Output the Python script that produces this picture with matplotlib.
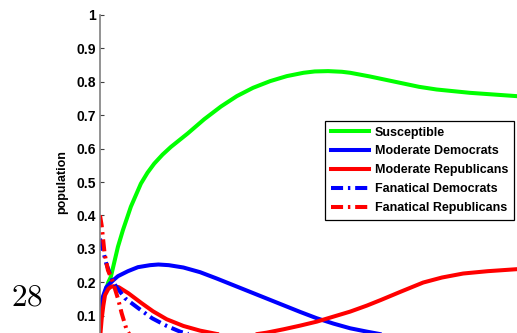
import matplotlib
matplotlib.use('Agg')
import matplotlib.pyplot as plt
from matplotlib.ticker import FixedLocator, FixedFormatter

# values (time in arbitrary units, 0..100 across the visible width)
t_sus = [0, 1, 2, 2.6, 4.3, 5.5, 7.4, 9.8, 11.4, 13, 15, 17, 21, 25, 29, 32.8, 36.7,
         40.8, 44.8, 48.8, 51.5, 54.7, 58, 60, 64.7, 68.5, 72.7, 76.5, 80.7, 88.7, 100]
susceptible = [0.10, 0.16, 0.20, 0.216, 0.306, 0.356, 0.426, 0.495, 0.528, 0.555,
               0.582, 0.605, 0.645, 0.688, 0.726, 0.757, 0.782, 0.802, 0.817, 0.827,
               0.831, 0.832, 0.830, 0.827, 0.816, 0.806, 0.795, 0.785, 0.777, 0.767,
               0.757]

t_md = [0, 0.5, 1.5, 3.1, 4.3, 6.7, 9.1, 12, 14, 16.5, 20, 24, 28, 32, 36, 40, 44,
        48, 52, 56, 60, 64, 70, 80, 100]
mod_dem = [0.11, 0.15, 0.185, 0.205, 0.218, 0.233, 0.245, 0.251, 0.253, 0.251,
           0.244, 0.23, 0.211, 0.191, 0.171, 0.151, 0.131, 0.111, 0.092, 0.076,
           0.062, 0.052, 0.038, 0.022, 0.008]

t_mr = [0, 0.4, 0.8, 1.2, 2, 2.6, 3.2, 4.5, 6.8, 10, 12.7, 16, 20, 24, 28, 32.4,
        36.8, 40, 44, 48, 52, 56, 60, 64, 67.4, 72, 77.5, 82, 87.1, 93, 100]
mod_rep = [0.03, 0.09, 0.13, 0.161, 0.18, 0.186, 0.188, 0.185, 0.167, 0.137, 0.113,
           0.089, 0.069, 0.055, 0.045, 0.038, 0.043, 0.049, 0.059, 0.07, 0.082,
           0.097, 0.112, 0.13, 0.147, 0.171, 0.199, 0.214, 0.226, 0.233, 0.239]

t_fd = [0, 0.3, 1.5, 3.1, 6, 9.2, 12.5, 16, 19.2, 24, 30, 40, 60, 100]
fan_dem = [0.33, 0.316, 0.256, 0.2, 0.152, 0.122, 0.092, 0.069, 0.052, 0.035,
           0.025, 0.015, 0.006, 0.002]

t_fr = [0, 0.4, 1.1, 1.9, 3.1, 4.4, 5.2, 6.4, 7.5, 10, 15, 30, 100]
fan_rep = [0.40, 0.37, 0.286, 0.236, 0.2, 0.147, 0.107, 0.057, 0.035, 0.015,
           0.005, 0.001, 0.0]

yticks = [0.1, 0.2, 0.3, 0.4, 0.5, 0.6, 0.7, 0.8, 0.9, 1]
ytick_labels = ['0.1', '0.2', '0.3', '0.4', '0.5', '0.6', '0.7', '0.8', '0.9', '1']

plt.rcParams['font.family'] = ['Liberation Sans', 'DejaVu Sans']

W, H = 517, 333
fig = plt.figure(figsize=(W / 100, H / 100), dpi=100)
ax = fig.add_axes([100 / W, -16 / H, 417 / W, 334 / H])

lw = 2.9
dd = (0, (3, 1.2, 0.6, 1.2))
kw = dict(lw=lw, solid_joinstyle='round', dash_joinstyle='round')
ax.plot(t_sus, susceptible, color='#00ff00', label='Susceptible', **kw)
ax.plot(t_md, mod_dem, color='#0000ff', label='Moderate Democrats', **kw)
ax.plot(t_mr, mod_rep, color='#ff0000', label='Moderate Republicans', **kw)
ax.plot(t_fd, fan_dem, color='#0000ff', ls=dd, label='Fanatical Democrats', **kw)
ax.plot(t_fr, fan_rep, color='#ff0000', ls=dd, label='Fanatical Republicans', **kw)

ax.set_xlim(0, 100)
ax.set_ylim(0, 1)
for s in ['top', 'right', 'bottom']:
    ax.spines[s].set_visible(False)
ax.spines['left'].set_color('#808080')
ax.spines['left'].set_linewidth(1.2)
ax.set_xticks([])
ax.yaxis.set_major_locator(FixedLocator(yticks))
ax.yaxis.set_major_formatter(FixedFormatter(ytick_labels))
ax.tick_params(axis='y', direction='in', length=3, width=0.8, color='#404040',
               pad=3, labelsize=10)
for lab in ax.get_yticklabels():
    lab.set_fontweight('bold')

ax.set_ylabel('population', fontsize=9, fontweight='bold')
ax.yaxis.set_label_coords(-0.077, 0.5)

leg = ax.legend(loc='upper right', bbox_to_anchor=(514 / W, 1 - 121 / H),
                bbox_transform=fig.transFigure, borderaxespad=0,
                prop={'weight': 'bold', 'size': 9}, handlelength=3.1,
                handletextpad=0.45, labelspacing=0.55, borderpad=0.45,
                fancybox=False, framealpha=1, edgecolor='black')
leg.get_frame().set_linewidth(0.9)

fig.text(27 / W, 1 - 297 / H, r'$28$', ha='center', va='center', fontsize=22.5,
         math_fontfamily='cm')

fig.savefig('out.png', dpi=100)
